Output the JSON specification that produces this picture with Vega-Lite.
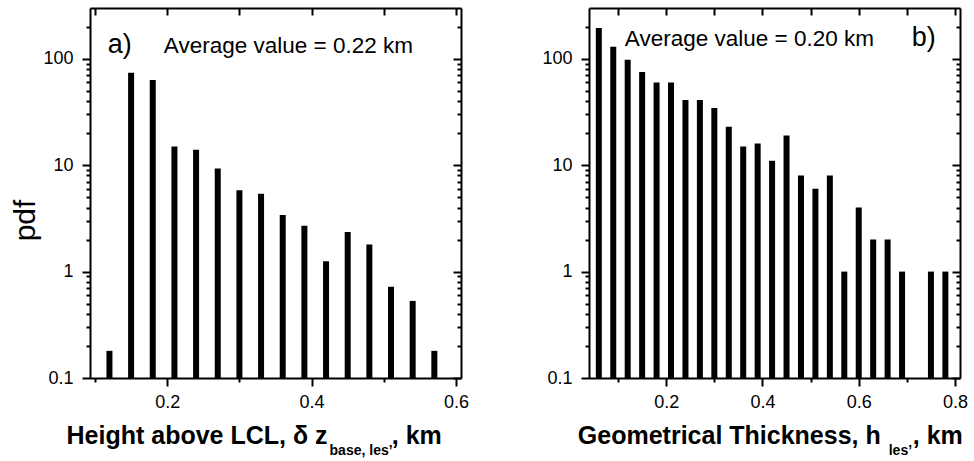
{
  "$schema": "https://vega.github.io/schema/vega-lite/v6.json",
  "background": "white",
  "padding": {"left": 10, "top": 7, "right": 0, "bottom": 0},
  "spacing": 72,
  "config": {
    "view": {"stroke": null},
    "axis": {"grid": false, "domainColor": "black", "domainWidth": 2, "tickColor": "black", "tickWidth": 2, "labelColor": "black", "labelFont": "Liberation Sans", "labelFontSize": 18, "titleFont": "Liberation Sans", "titleColor": "black", "labelOverlap": false, "labelFlush": false, "labelBound": false},
    "text": {"font": "Liberation Sans", "color": "black"}
  },
  "hconcat": [
    {
      "width": 371, "height": 370,
      "layer": [
        {
          "data": {"values": [
            {"x": 0.12, "pdf": 0.18}, {"x": 0.15, "pdf": 74}, {"x": 0.18, "pdf": 63}, {"x": 0.21, "pdf": 15},
            {"x": 0.24, "pdf": 14}, {"x": 0.27, "pdf": 9.3}, {"x": 0.30, "pdf": 5.8}, {"x": 0.33, "pdf": 5.4},
            {"x": 0.36, "pdf": 3.4}, {"x": 0.39, "pdf": 2.7}, {"x": 0.42, "pdf": 1.25}, {"x": 0.45, "pdf": 2.35},
            {"x": 0.48, "pdf": 1.8}, {"x": 0.51, "pdf": 0.72}, {"x": 0.54, "pdf": 0.53}, {"x": 0.57, "pdf": 0.18}
          ]},
          "mark": {"type": "bar", "width": 6, "color": "black"},
          "encoding": {
            "x": {"field": "x", "type": "quantitative", "scale": {"domain": [0.1, 0.6], "nice": false, "zero": false},
              "axis": {"orient": "bottom", "title": null, "values": [0.1, 0.2, 0.3, 0.4, 0.5, 0.6],
                "labelExpr": "indexof([0.2,0.4,0.6], datum.value) >= 0 ? format(datum.value, '.1f') : ''",
                "tickSize": {"condition": {"test": "indexof([0.2,0.4,0.6], datum.value) >= 0", "value": 8}, "value": 4},
                "labelPadding": 7}},
            "y": {"field": "pdf", "type": "quantitative", "scale": {"type": "log", "domain": [0.1, 300], "nice": false},
              "axis": {"orient": "left", "title": "pdf", "titleFontSize": 30, "titleFontWeight": "normal", "titlePadding": 2, "titleY": 212,
                "values": [0.1,0.2,0.3,0.4,0.5,0.6,0.7,0.8,0.9,1,2,3,4,5,6,7,8,9,10,20,30,40,50,60,70,80,90,100,200],
                "labelExpr": "indexof([0.1,1,10,100], datum.value) >= 0 ? format(datum.value, '~g') : ''",
                "tickSize": {"condition": {"test": "indexof([0.1,1,10,100], datum.value) >= 0", "value": 8}, "value": 4},
                "labelPadding": 9}},
            "y2": {"datum": 0.1}
          }
        },
        {
          "data": {"values": [{}]},
          "mark": {"type": "text", "text": "a)", "align": "left", "baseline": "alphabetic", "fontSize": 27},
          "encoding": {
            "x": {"datum": 0.1175, "type": "quantitative",
              "axis": {"orient": "top", "title": null, "labels": false, "values": [0.1, 0.2, 0.3, 0.4, 0.5, 0.6], "tickSize": -7}},
            "y": {"datum": 114, "type": "quantitative",
              "axis": {"orient": "right", "title": null, "labels": false,
                "values": [0.1,0.2,0.3,0.4,0.5,0.6,0.7,0.8,0.9,1,2,3,4,5,6,7,8,9,10,20,30,40,50,60,70,80,90,100,200],
                "tickSize": {"condition": {"test": "indexof([0.1,1,10,100], datum.value) >= 0", "value": -8}, "value": -4}}}
          }
        },
        {
          "data": {"values": [{}]},
          "mark": {"type": "text", "text": "Average value = 0.22 km", "align": "left", "baseline": "alphabetic", "fontSize": 22.5},
          "encoding": {
            "x": {"datum": 0.1953, "type": "quantitative", "axis": null},
            "y": {"datum": 114, "type": "quantitative", "axis": null}
          }
        },
        {
          "data": {"values": [{}]},
          "mark": {"type": "text", "text": "Height above LCL, δ z", "align": "right", "baseline": "alphabetic", "fontSize": 25, "fontWeight": "bold", "y": "height", "dy": 66},
          "encoding": {"x": {"datum": 0.4221, "type": "quantitative", "axis": null}}
        },
        {
          "data": {"values": [{}]},
          "mark": {"type": "text", "text": "base, les’", "align": "left", "baseline": "alphabetic", "fontSize": 14, "fontWeight": "bold", "y": "height", "dy": 77, "dx": 2},
          "encoding": {"x": {"datum": 0.4221, "type": "quantitative", "axis": null}}
        },
        {
          "data": {"values": [{}]},
          "mark": {"type": "text", "text": ", km", "align": "left", "baseline": "alphabetic", "fontSize": 25, "fontWeight": "bold", "y": "height", "dy": 66},
          "encoding": {"x": {"datum": 0.511, "type": "quantitative", "axis": null}}
        }
      ],
      "resolve": {"axis": {"x": "independent", "y": "independent"}}
    },
    {
      "width": 371, "height": 370,
      "layer": [
        {
          "data": {"values": [
            {"x": 0.06, "pdf": 195}, {"x": 0.09, "pdf": 130}, {"x": 0.12, "pdf": 98}, {"x": 0.15, "pdf": 75},
            {"x": 0.18, "pdf": 60}, {"x": 0.21, "pdf": 60}, {"x": 0.24, "pdf": 41}, {"x": 0.27, "pdf": 41},
            {"x": 0.30, "pdf": 34.5}, {"x": 0.33, "pdf": 23}, {"x": 0.36, "pdf": 15}, {"x": 0.39, "pdf": 16},
            {"x": 0.42, "pdf": 11}, {"x": 0.45, "pdf": 19}, {"x": 0.48, "pdf": 8}, {"x": 0.51, "pdf": 6},
            {"x": 0.54, "pdf": 8}, {"x": 0.57, "pdf": 1}, {"x": 0.60, "pdf": 4}, {"x": 0.63, "pdf": 2},
            {"x": 0.66, "pdf": 2}, {"x": 0.69, "pdf": 1}, {"x": 0.75, "pdf": 1}, {"x": 0.78, "pdf": 1}
          ]},
          "mark": {"type": "bar", "width": 6, "color": "black"},
          "encoding": {
            "x": {"field": "x", "type": "quantitative", "scale": {"domain": [0.05, 0.8], "nice": false, "zero": false},
              "axis": {"orient": "bottom", "title": null, "values": [0.1, 0.2, 0.3, 0.4, 0.5, 0.6, 0.7, 0.8],
                "labelExpr": "indexof([0.2,0.4,0.6,0.8], datum.value) >= 0 ? format(datum.value, '.1f') : ''",
                "tickSize": {"condition": {"test": "indexof([0.2,0.4,0.6,0.8], datum.value) >= 0", "value": 8}, "value": 4},
                "labelPadding": 7}},
            "y": {"field": "pdf", "type": "quantitative", "scale": {"type": "log", "domain": [0.1, 300], "nice": false},
              "axis": {"orient": "left", "title": null,
                "values": [0.1,0.2,0.3,0.4,0.5,0.6,0.7,0.8,0.9,1,2,3,4,5,6,7,8,9,10,20,30,40,50,60,70,80,90,100,200],
                "labelExpr": "indexof([0.1,1,10,100], datum.value) >= 0 ? format(datum.value, '~g') : ''",
                "tickSize": {"condition": {"test": "indexof([0.1,1,10,100], datum.value) >= 0", "value": 8}, "value": 4},
                "labelPadding": 9}},
            "y2": {"datum": 0.1}
          }
        },
        {
          "data": {"values": [{}]},
          "mark": {"type": "text", "text": "b)", "align": "left", "baseline": "alphabetic", "fontSize": 27},
          "encoding": {
            "x": {"datum": 0.71, "type": "quantitative",
              "axis": {"orient": "top", "title": null, "labels": false, "values": [0.1, 0.2, 0.3, 0.4, 0.5, 0.6, 0.7, 0.8], "tickSize": -7}},
            "y": {"datum": 132, "type": "quantitative",
              "axis": {"orient": "right", "title": null, "labels": false,
                "values": [0.1,0.2,0.3,0.4,0.5,0.6,0.7,0.8,0.9,1,2,3,4,5,6,7,8,9,10,20,30,40,50,60,70,80,90,100,200],
                "tickSize": {"condition": {"test": "indexof([0.1,1,10,100], datum.value) >= 0", "value": -8}, "value": -4}}}
          }
        },
        {
          "data": {"values": [{}]},
          "mark": {"type": "text", "text": "Average value = 0.20 km", "align": "left", "baseline": "alphabetic", "fontSize": 22.5},
          "encoding": {
            "x": {"datum": 0.114, "type": "quantitative", "axis": null},
            "y": {"datum": 132, "type": "quantitative", "axis": null}
          }
        },
        {
          "data": {"values": [{}]},
          "mark": {"type": "text", "text": "Geometrical Thickness, h", "align": "right", "baseline": "alphabetic", "fontSize": 25, "fontWeight": "bold", "y": "height", "dy": 66},
          "encoding": {"x": {"datum": 0.6457, "type": "quantitative", "axis": null}}
        },
        {
          "data": {"values": [{}]},
          "mark": {"type": "text", "text": "les’", "align": "left", "baseline": "alphabetic", "fontSize": 14, "fontWeight": "bold", "y": "height", "dy": 77, "dx": 8},
          "encoding": {"x": {"datum": 0.6457, "type": "quantitative", "axis": null}}
        },
        {
          "data": {"values": [{}]},
          "mark": {"type": "text", "text": ", km", "align": "left", "baseline": "alphabetic", "fontSize": 25, "fontWeight": "bold", "y": "height", "dy": 66},
          "encoding": {"x": {"datum": 0.7123, "type": "quantitative", "axis": null}}
        }
      ],
      "resolve": {"axis": {"x": "independent", "y": "independent"}}
    }
  ]
}
